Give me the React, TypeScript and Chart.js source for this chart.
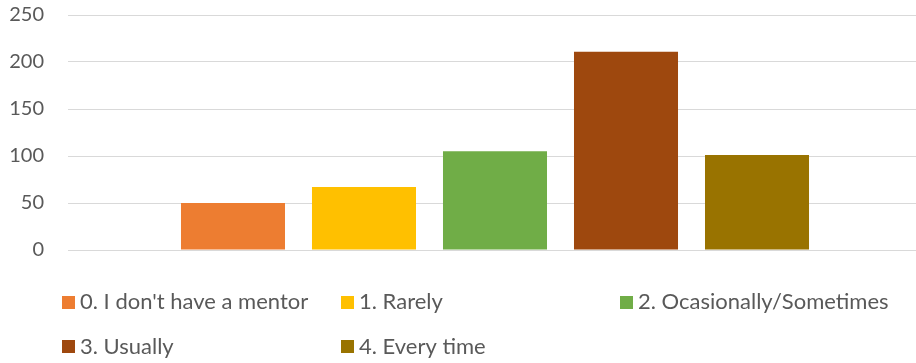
import React, { useEffect, useRef } from "react";
import { Chart, registerables } from "chart.js";

Chart.register(...registerables);

const categories = [""];
const seriesNames = [
  "0. I don't have a mentor",
  "1. Rarely",
  "2. Ocasionally/Sometimes",
  "3. Usually",
  "4. Every time",
];
const seriesValues = [50, 67, 105, 211, 101];
const seriesColors = ["#ED7D31", "#FFC000", "#70AD47", "#9E480E", "#997300"];
const yMin = 0;
const yMax = 250;
const yStep = 50;

const FONT = "Lato, 'Open Sans', sans-serif";
const TEXT_COLOR = "#595959";

const gridLegend = {
  id: "gridLegend",
  afterDraw(chart: any) {
    const ctx = chart.ctx;
    const cols = [62, 341, 620];
    const rowBoxTop = [296, 340];
    const rowBaseline = [309, 354];
    const box = 13;
    ctx.save();
    ctx.font = `22px ${FONT}`;
    ctx.textAlign = "left";
    ctx.textBaseline = "alphabetic";
    chart.data.datasets.forEach((ds: any, i: number) => {
      const c = i % 3;
      const r = Math.floor(i / 3);
      const x = cols[c];
      ctx.fillStyle = ds.backgroundColor;
      ctx.fillRect(x, rowBoxTop[r], box, box);
      ctx.fillStyle = TEXT_COLOR;
      ctx.fillText(ds.label, x + 18, rowBaseline[r]);
    });
    ctx.restore();
  },
};

export default function App() {
  const ref = useRef<HTMLCanvasElement>(null);
  useEffect(() => {
    if (!ref.current) return;
    const chart = new Chart(ref.current, {
      type: "bar",
      data: {
        labels: categories,
        datasets: seriesNames.map((name, i) => ({
          label: name,
          data: [seriesValues[i]],
          backgroundColor: seriesColors[i],
          borderWidth: 0,
          categoryPercentage: 0.767,
          barPercentage: 0.794,
        })),
      },
      options: {
        animation: false,
        responsive: false,
        maintainAspectRatio: false,
        devicePixelRatio: 1,
        layout: { padding: { left: 0, right: 0, top: 15, bottom: 113 } },
        plugins: {
          legend: { display: false },
          title: { display: false },
          tooltip: { enabled: false },
        },
        scales: {
          x: { display: false },
          y: {
            min: yMin,
            max: yMax,
            ticks: {
              stepSize: yStep,
              padding: 24,
              color: TEXT_COLOR,
              font: { family: FONT, size: 20 },
            },
            border: { display: false },
            grid: { color: "#D9D9D9", lineWidth: 1, drawTicks: false },
            afterFit(scale: any) {
              scale.width = 68;
              scale.paddingTop = 0;
              scale.paddingBottom = 0;
            },
          },
        },
      },
      plugins: [gridLegend],
    });
    return () => chart.destroy();
  }, []);
  return (
    <div style={{ position: "fixed", left: 0, top: 0, width: 916, height: 363, overflow: "hidden", background: "#fff" }}>
      <canvas ref={ref} width={922} height={363} style={{ display: "block", width: 922, height: 363 }} />
    </div>
  );
}
